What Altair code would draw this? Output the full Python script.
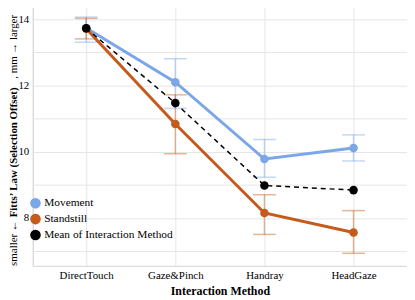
import altair as alt
import pandas as pd

methods = ["DirectTouch", "Gaze&Pinch", "Handray", "HeadGaze"]
series_names = ["Movement", "Standstill", "Mean of Interaction Method"]
colors = ["#7ba6e8", "#c65a1b", "#000000"]

movement = [13.74, 12.10, 9.78, 10.11]
movement_lo = [13.31, 11.31, 9.23, 9.72]
movement_hi = [14.07, 12.81, 10.37, 10.51]

standstill = [13.72, 10.84, 8.15, 7.56]
standstill_lo = [13.41, 9.94, 7.50, 6.93]
standstill_hi = [14.03, 11.72, 8.70, 8.22]

mean_vals = [13.73, 11.47, 8.98, 8.84]

y_title_parts = ["smaller \u2190 ", "Fitts\u2019 Law (Selection Offset)", ", mm \u2192 larger"]

rows = []
for i, m in enumerate(methods):
    rows.append(dict(method=m, series="Movement", value=movement[i], lo=movement_lo[i], hi=movement_hi[i]))
    rows.append(dict(method=m, series="Standstill", value=standstill[i], lo=standstill_lo[i], hi=standstill_hi[i]))
    rows.append(dict(method=m, series="Mean of Interaction Method", value=mean_vals[i], lo=None, hi=None))
df = pd.DataFrame(rows)

FONT = "Liberation Serif"

xs = alt.Scale(type="point", padding=0.6, domain=methods)
ys = alt.Scale(domain=[6.55, 14.42], nice=False, zero=False)
cs = alt.Scale(domain=series_names, range=colors)

x_enc = alt.X("method:N", scale=xs, sort=methods,
              axis=alt.Axis(title="Interaction Method", labelAngle=0, grid=True, ticks=False,
                            labelPadding=4, titlePadding=5))
y_axis = alt.Axis(title=None,
                  values=[7, 8, 9, 10, 11, 12, 13, 14],
                  labelExpr="datum.value % 2 == 0 ? datum.label : ''",
                  ticks=False, grid=True, labelPadding=4)
legend = alt.Legend(title=None, orient="none", legendX=-3, legendY=194,
                    symbolSize=85, labelFontSize=11.5, labelFont=FONT, labelColor="#000000",
                    rowPadding=0, symbolType="circle", padding=0, labelOffset=3,
                    symbolOpacity=1)


def Y(field):
    return alt.Y(field, scale=ys, axis=y_axis)


def C():
    return alt.Color("series:N", scale=cs, sort=series_names, legend=legend)


base = alt.Chart(df)
err = base.transform_filter("datum.series != 'Mean of Interaction Method'")

rules = err.mark_rule(strokeWidth=1.5, opacity=0.45).encode(
    x=x_enc, y=Y("lo:Q"), y2="hi:Q", color=C(),
)

caps = err.transform_fold(["lo", "hi"], as_=["bound", "bv"]).mark_tick(
    size=23, thickness=1.5, opacity=0.45
).encode(x=x_enc, y=Y("bv:Q"), color=C())

lines = err.mark_line(strokeWidth=3).encode(x=x_enc, y=Y("value:Q"), color=C())

mean_line = base.transform_filter("datum.series == 'Mean of Interaction Method'").mark_line(
    strokeWidth=1.5, strokeDash=[5, 4], color="black"
).encode(x=x_enc, y=Y("value:Q"))

points = base.mark_circle(size=75, opacity=1).encode(x=x_enc, y=Y("value:Q"), color=C())

# y-axis title drawn as three text pieces (middle piece bold)
TX = -19
TFS = 11
t_df = pd.DataFrame({"t": y_title_parts})
t1 = alt.Chart(t_df).transform_filter(alt.datum.t == y_title_parts[0]).mark_text(
    angle=270, align="left", baseline="middle", font=FONT, fontSize=TFS, color="black"
).encode(text="t:N", x=alt.value(TX), y=alt.value(263))
t2 = alt.Chart(t_df).transform_filter(alt.datum.t == y_title_parts[1]).mark_text(
    angle=270, align="left", baseline="middle", font=FONT, fontSize=TFS, fontWeight="bold", color="black"
).encode(text="t:N", x=alt.value(TX), y=alt.value(214))
t3 = alt.Chart(t_df).transform_filter(alt.datum.t == y_title_parts[2]).mark_text(
    angle=270, align="left", baseline="middle", font=FONT, fontSize=TFS, color="black"
).encode(text="t:N", x=alt.value(TX), y=alt.value(74))

chart = alt.layer(rules, caps, lines, mean_line, points, t1, t2, t3).properties(
    width=378, height=263,
    autosize=alt.AutoSizeParams(type="none"),
    padding={"left": 25, "top": -4, "right": 0, "bottom": 33},
).configure_view(stroke=None).configure_axis(
    labelFont=FONT, titleFont=FONT, labelFontSize=11, titleFontSize=12,
    labelColor="#000000", titleColor="#000000",
    gridColor="#e6e6e6", domainColor="#dcdcdc", domainWidth=1.5,
).configure_axisX(titleFontWeight="bold")

chart.save("out.html", embed_options={"renderer": "svg", "actions": False})
